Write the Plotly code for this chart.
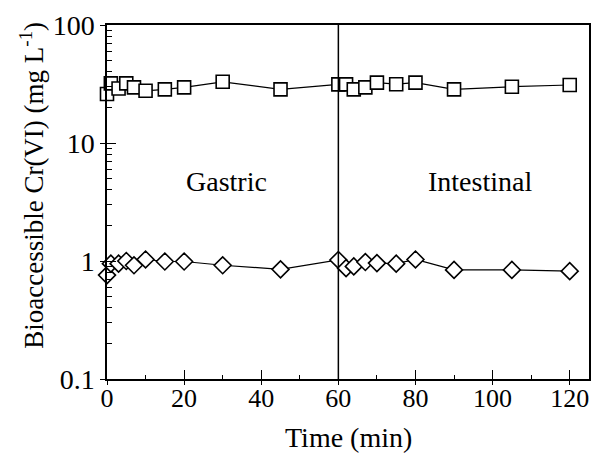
import plotly.graph_objects as go

time_min = [0, 1, 3, 5, 7, 10, 15, 20, 30, 45, 60, 62, 64, 67, 70, 75, 80, 90, 105, 120]
cr_square = [26, 32, 29, 32, 29.6, 27.7, 28.5, 29.6, 33, 28.5, 31.4, 31.4, 28.5, 29.6, 32.5, 31.5, 32.5, 28.5, 30, 31]
cr_diamond = [0.76, 0.95, 0.95, 1.0, 0.92, 1.03, 0.99, 0.99, 0.92, 0.85, 1.02, 0.87, 0.90, 0.98, 0.96, 0.95, 1.03, 0.84, 0.84, 0.82]
x_ticks = [0, 20, 40, 60, 80, 100, 120]
y_ticks = [0.1, 1, 10, 100]
y_tick_text = ["0.1", "1", "10", "100"]

FONT = "Liberation Serif"

fig = go.Figure()
for vals, sym in [(cr_square, "square"), (cr_diamond, "diamond")]:
    fig.add_trace(go.Scatter(
        x=time_min, y=vals, mode="lines+markers",
        line=dict(color="black", width=1.2),
        marker=dict(symbol=sym, size=13, color="white", line=dict(color="black", width=1.6)),
        cliponaxis=False, showlegend=False, hoverinfo="skip",
    ))

# invisible trace for overlay axes (inside ticks)
fig.add_trace(go.Scatter(x=[0], y=[1], xaxis="x2", yaxis="y2", mode="markers",
                         marker=dict(opacity=0), showlegend=False, hoverinfo="skip"))

fig.add_shape(type="line", x0=60, x1=60, y0=0, y1=1, xref="x", yref="paper",
              line=dict(color="black", width=1.5))

fig.add_annotation(x=31, y=0.672, xref="x", yref="y", text="Gastric", showarrow=False,
                   font=dict(family=FONT, size=28, color="black"))
fig.add_annotation(x=96.8, y=0.672, xref="x", yref="y", text="Intestinal", showarrow=False,
                   font=dict(family=FONT, size=28, color="black"))
fig.add_annotation(x=0.5, y=-0.164, xref="paper", yref="paper", text="Time (min)",
                   showarrow=False, xanchor="center", yanchor="middle",
                   font=dict(family=FONT, size=28, color="black"))
fig.add_annotation(x=-0.156, y=0.548, xref="paper", yref="paper",
                   text="Bioaccessible Cr(VI) (mg L<sup>-1</sup>)", textangle=-90,
                   showarrow=False, xanchor="center", yanchor="middle",
                   font=dict(family=FONT, size=27, color="black"))

axis_common = dict(showgrid=False, zeroline=False, linecolor="black", linewidth=1.5,
                   automargin=False)

fig.update_layout(
    width=591, height=454,
    margin=dict(l=107, r=2, t=25, b=75),
    plot_bgcolor="white", paper_bgcolor="white",
    font=dict(family=FONT, color="black"),
    xaxis=dict(range=[0, 125], tickvals=x_ticks, ticks="outside", ticklen=4, tickwidth=1.2,
               tickcolor="black", mirror=True, showline=True, ticklabelstandoff=-9,
               tickfont=dict(size=26, family=FONT), **axis_common),
    yaxis=dict(type="log", range=[-1, 2], tickvals=y_ticks, ticktext=y_tick_text,
               ticks="outside", ticklen=5, tickwidth=1.2, tickcolor="black",
               mirror=True, showline=True,
               tickfont=dict(size=28, family=FONT), **axis_common),
    xaxis2=dict(range=[0, 125], overlaying="x", anchor="y", side="bottom",
                dtick=20, tick0=0, ticks="inside", ticklen=9, tickwidth=1.2, tickcolor="black",
                showticklabels=False, showline=False, showgrid=False, zeroline=False,
                automargin=False,
                minor=dict(dtick=10, tick0=0, ticks="inside", ticklen=4, tickcolor="black",
                           tickwidth=1, showgrid=False)),
    yaxis2=dict(type="log", range=[-1, 2], overlaying="y", anchor="x", side="left",
                dtick=1, ticks="inside", ticklen=9, tickwidth=1.2, tickcolor="black",
                showticklabels=False, showline=False, showgrid=False, zeroline=False,
                automargin=False,
                minor=dict(dtick="D1", ticks="inside", ticklen=5, tickcolor="black",
                           tickwidth=1, showgrid=False)),
)

fig.write_html("out.html", config={"displayModeBar": False},
               post_script="document.body.style.margin='0';")
